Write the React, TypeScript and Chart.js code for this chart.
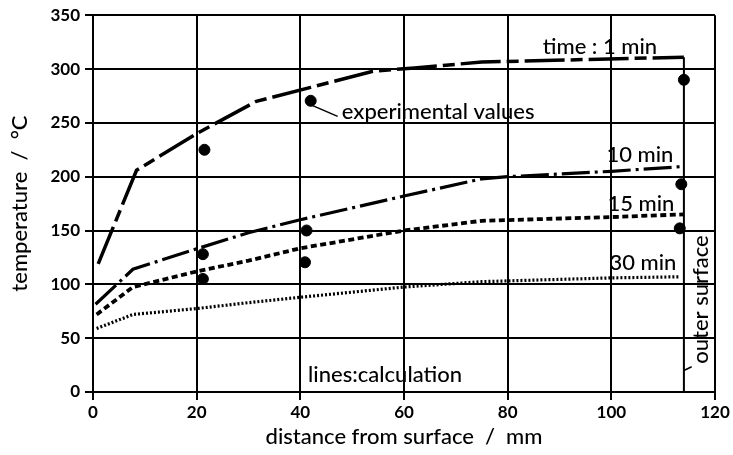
import React, { useEffect, useRef } from 'react';
import { Chart, registerables } from 'chart.js';

Chart.register(...registerables);

// ---- data ----
const xMin = 0, xMax = 120, xStep = 20;
const yMin = 0, yMax = 350, yStep = 50;

const x1min = [1, 8.4, 20, 31.5, 42, 54, 62, 75, 114];
const y1min = [119, 206, 240, 270, 283, 298, 301, 306.5, 311];

const x10min = [0.5, 7.7, 20, 30, 40, 60, 75, 80, 100, 114];
const y10min = [81.5, 114, 133, 148, 160, 182, 198, 200, 205, 209.5];

const x15min = [0.7, 7.7, 20, 30, 40, 60, 75, 100, 114];
const y15min = [72, 97.5, 112, 122, 133.5, 150, 159, 162.5, 165];

const x30min = [0.7, 7.7, 20, 30, 40, 60, 75, 100, 113];
const y30min = [59, 72, 77.5, 83, 88, 97.5, 102.5, 106, 107];

const xExp = [21.5, 21.2, 21.2, 42.0, 41.2, 40.9, 114, 113.5, 113.2];
const yExp = [225, 128, 105, 270.5, 150, 120.5, 290, 193, 152];

const outerSurfaceX = 114;
const outerSurfaceTop = 311;

const pts = (xs: number[], ys: number[]) => xs.map((v, i) => ({ x: v, y: ys[i] }));

const FONT = 'Lato, "Liberation Sans", sans-serif';

const annotPlugin = {
  id: 'annot',
  afterDatasetsDraw(chart: any) {
    const { ctx, scales } = chart;
    const x = scales.x, y = scales.y;
    const X = (v: number) => x.getPixelForValue(v);
    const Y = (v: number) => y.getPixelForValue(v);
    ctx.save();
    ctx.fillStyle = '#000';
    ctx.strokeStyle = '#000';
    ctx.font = `500 22px ${FONT}`;
    ctx.textBaseline = 'alphabetic';
    ctx.textAlign = 'center';
    ctx.fillText('time : 1 min', X(97.8), Y(314));
    ctx.fillText('10 min', X(105.5), Y(214));
    ctx.fillText('15 min', X(105.7), Y(168));
    ctx.fillText('30 min', X(106.1), Y(113.6));
    ctx.textAlign = 'left';
    ctx.fillText('experimental values', X(48), Y(254));
    ctx.fillText('lines:calculation', X(41.5), Y(9.2));
    // leader lines
    ctx.lineWidth = 1.5;
    ctx.beginPath();
    ctx.moveTo(X(42.4), Y(266));
    ctx.lineTo(X(47.2), Y(256));
    ctx.stroke();
    ctx.beginPath();
    ctx.moveTo(X(114), Y(20));
    ctx.lineTo(X(115.5), Y(23.5));
    ctx.stroke();
    // rotated label
    ctx.save();
    ctx.translate(X(118.7), Y(85.9));
    ctx.rotate(-Math.PI / 2);
    ctx.textAlign = 'center';
    ctx.fillText('outer surface', 0, 0);
    ctx.restore();
    ctx.restore();
  },
};

export default function App() {
  const ref = useRef<HTMLCanvasElement | null>(null);
  useEffect(() => {
    if (!ref.current) return;
    const lineDs = (label: string, xs: number[], ys: number[], dash: number[], w: number) => ({
      label,
      data: pts(xs, ys),
      showLine: true,
      borderColor: '#000',
      backgroundColor: '#000',
      borderWidth: w,
      borderDash: dash,
      borderCapStyle: 'butt',
      pointRadius: 0,
      tension: 0,
    });
    const chart = new Chart(ref.current, {
      type: 'scatter',
      data: {
        datasets: [
          lineDs('1 min', x1min, y1min, [40, 6, 12, 6], 3.5),
          lineDs('10 min', x10min, y10min, [28, 5, 3, 5], 3.2),
          lineDs('15 min', x15min, y15min, [6, 3.5], 3.8),
          lineDs('30 min', x30min, y30min, [2, 2], 3.2),
          lineDs('outer surface', [outerSurfaceX, outerSurfaceX], [yMin, outerSurfaceTop], [], 2),
          {
            label: 'experimental values',
            data: pts(xExp, yExp),
            pointRadius: 5.5,
            pointBackgroundColor: '#000',
            pointBorderColor: '#000',
            showLine: false,
          },
        ] as any,
      },
      options: {
        responsive: false,
        animation: false,
        layout: { padding: { top: 13, right: 18, left: 0, bottom: 0 } },
        plugins: {
          legend: { display: false },
          tooltip: { enabled: false },
        },
        scales: {
          x: {
            type: 'linear',
            min: xMin,
            max: xMax,
            ticks: { stepSize: xStep, color: '#000', font: { family: FONT, size: 17, weight: 'bold' }, padding: 2 },
            grid: { color: '#000', lineWidth: 2, tickLength: 8 },
            border: { color: '#000', width: 2 },
            title: {
              display: true,
              text: 'distance from surface  /  mm',
              color: '#000',
              font: { family: FONT, size: 22, weight: '500' },
              padding: { top: 0, bottom: 5 },
            },
            afterFit: (s: any) => { s.height = 63; },
          },
          y: {
            type: 'linear',
            min: yMin,
            max: yMax,
            ticks: { stepSize: yStep, color: '#000', font: { family: FONT, size: 17, weight: 'bold' }, padding: 5 },
            grid: { color: '#000', lineWidth: 2, tickLength: 8 },
            border: { color: '#000', width: 2 },
            title: {
              display: true,
              text: 'temperature  /  °C',
              color: '#000',
              font: { family: FONT, size: 22, weight: '500' },
              padding: { top: 7, bottom: 0 },
            },
            afterFit: (s: any) => { s.width = 93; },
          },
        },
      } as any,
      plugins: [annotPlugin],
    });
    return () => chart.destroy();
  }, []);
  return (
    <div style={{ position: 'absolute', left: 0, top: 0, width: 733, height: 455, background: '#fff' }}>
      <canvas ref={ref} width={733} height={455} />
    </div>
  );
}
